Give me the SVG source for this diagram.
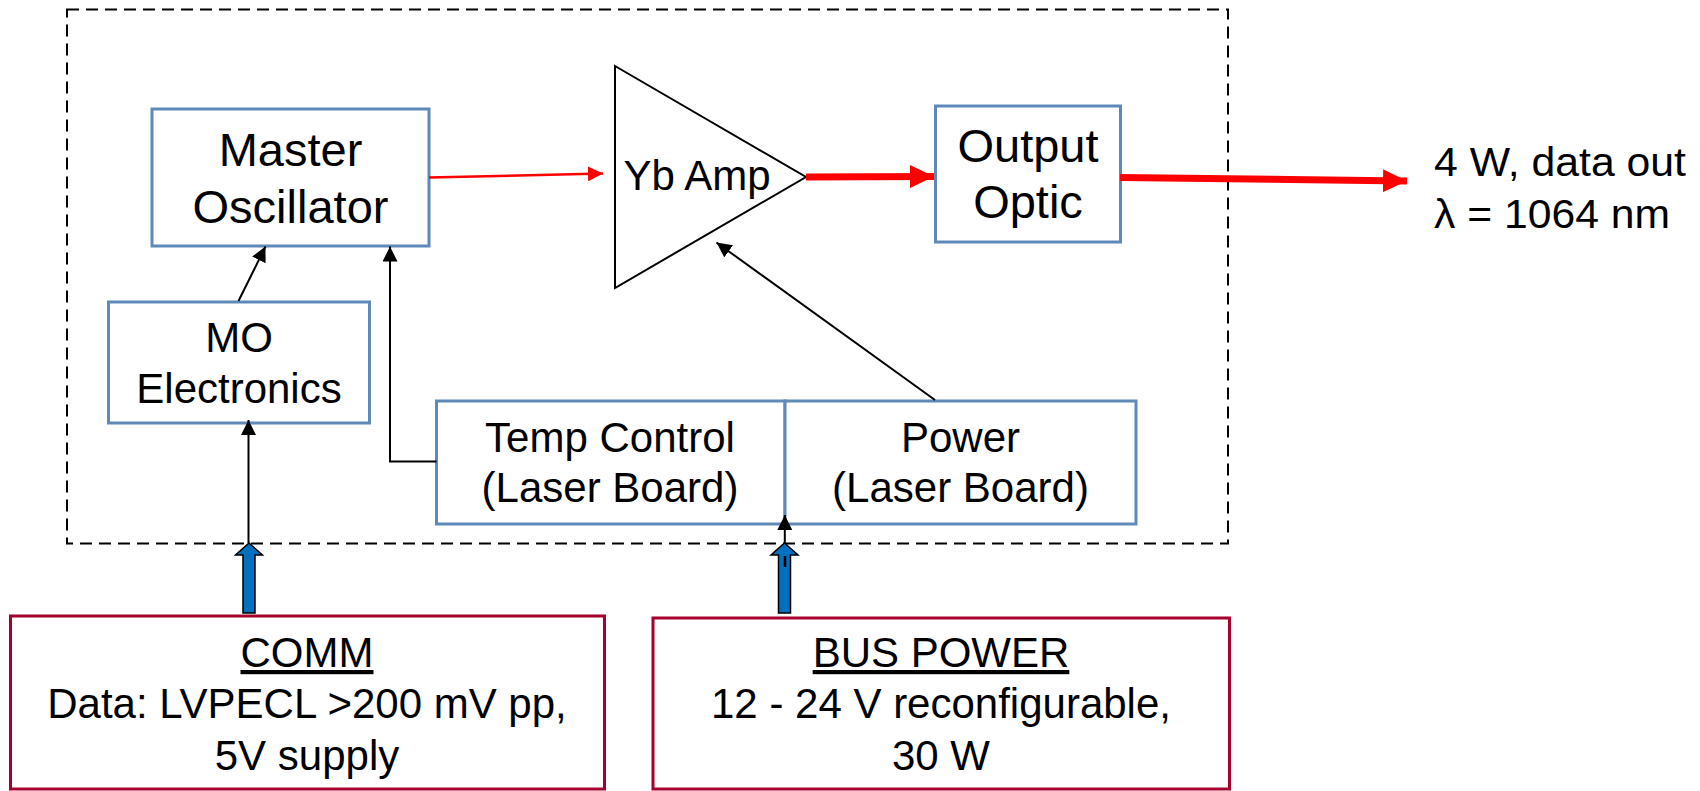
<svg xmlns="http://www.w3.org/2000/svg" width="1700" height="791" viewBox="0 0 1700 791">
<defs>
<style>
text{font-family:"Liberation Sans",Arial,sans-serif;fill:#000;text-anchor:middle}
.f47{font-size:47px}
.f42{font-size:42px}
.blue{fill:#fff;stroke:#5E89B8;stroke-width:3}
.red{fill:#fff;stroke:#A5002E;stroke-width:3}
.blk{fill:none;stroke:#000;stroke-width:2}
.blockarrow{fill:#0070C0;stroke:#000;stroke-width:1.5}
</style>
<marker id="ab" markerUnits="userSpaceOnUse" viewBox="0 0 15 15" markerWidth="15" markerHeight="15" refX="15" refY="7.5" orient="auto"><path d="M0,0 L15,7.5 L0,15 z" fill="#000"/></marker>
<marker id="ar" markerUnits="userSpaceOnUse" viewBox="0 0 15 15" markerWidth="15" markerHeight="15" refX="15" refY="7.5" orient="auto"><path d="M0,0 L15,7.5 L0,15 z" fill="#f00"/></marker>
<marker id="arL" markerUnits="userSpaceOnUse" viewBox="0 0 24 23" markerWidth="24" markerHeight="23" refX="24" refY="11.5" orient="auto"><path d="M0,0 L24,11.5 L0,23 z" fill="#f00"/></marker>
</defs>
<rect x="67" y="9.5" width="1161" height="534" fill="none" stroke="#000" stroke-width="2" stroke-dasharray="12 7"/>

<g id="master-oscillator">
<rect class="blue" x="152" y="109" width="277" height="137"/>
<text class="f47" x="290.5" y="166">Master</text>
<text class="f47" x="290.5" y="223">Oscillator</text>
</g>
<g id="mo-electronics">
<rect class="blue" x="108.5" y="302" width="261" height="121"/>
<text class="f42" x="239" y="352">MO</text>
<text class="f42" x="239" y="403">Electronics</text>
</g>
<g id="yb-amp">
<polygon points="615,66 806,177 615,288" fill="#fff" stroke="#000" stroke-width="2"/>
<text class="f42" x="697" y="190">Yb Amp</text>
</g>
<g id="output-optic">
<rect class="blue" x="935.5" y="106" width="185" height="136"/>
<text class="f47" x="1028" y="162">Output</text>
<text class="f47" x="1028" y="218">Optic</text>
</g>
<g id="temp-control">
<rect class="blue" x="436.5" y="401" width="348.5" height="123"/>
<text class="f42" x="610" y="452">Temp Control</text>
<text class="f42" x="610" y="502">(Laser Board)</text>
</g>
<g id="power">
<rect class="blue" x="785" y="401" width="351" height="123"/>
<text class="f42" x="960.5" y="452">Power</text>
<text class="f42" x="960.5" y="502">(Laser Board)</text>
</g>
<g id="comm">
<rect class="red" x="10.5" y="616" width="594" height="173"/>
<text class="f42" x="307" y="667" text-decoration="underline">COMM</text>
<text class="f42" x="307" y="718">Data: LVPECL &gt;200 mV pp,</text>
<text class="f42" x="307" y="770">5V supply</text>
</g>
<g id="bus-power">
<rect class="red" x="653" y="618" width="576.5" height="171"/>
<text class="f42" x="941" y="667" text-decoration="underline">BUS POWER</text>
<text class="f42" x="941" y="718">12 - 24 V reconfigurable,</text>
<text class="f42" x="941" y="770">30 W</text>
</g>
<g id="output-label">
<text class="f42" style="text-anchor:start;font-size:40px" x="1434" y="176" textLength="252" lengthAdjust="spacingAndGlyphs">4 W, data out</text>
<text class="f42" style="text-anchor:start;font-size:40px" x="1434" y="228" textLength="236" lengthAdjust="spacingAndGlyphs">λ = 1064 nm</text>
</g>

<g id="connectors">
<line x1="429" y1="177.5" x2="603" y2="173.5" stroke="#f00" stroke-width="2.5" marker-end="url(#ar)"/>
<line x1="806" y1="177" x2="934" y2="176.5" stroke="#f00" stroke-width="7" marker-end="url(#arL)"/>
<line x1="1120" y1="177.5" x2="1407" y2="181" stroke="#f00" stroke-width="7" marker-end="url(#arL)"/>
<line class="blk" x1="238.5" y1="301" x2="265.5" y2="246.5" marker-end="url(#ab)"/>
<polyline class="blk" points="436.5,461.5 390,461.5 390,246.5" marker-end="url(#ab)"/>
<line class="blk" x1="935" y1="400" x2="716.5" y2="242.5" marker-end="url(#ab)"/>
<polygon class="blockarrow" points="243,613 255,613 255,555 262.5,555 249,543 235.5,555 243,555"/>
<line class="blk" x1="248.5" y1="543" x2="248.5" y2="420" marker-end="url(#ab)"/>
<polygon class="blockarrow" points="778.5,613 790.5,613 790.5,555 798,555 784.5,543 771,555 778.5,555"/>
<line class="blk" x1="784.8" y1="543" x2="784.8" y2="515" marker-end="url(#ab)"/>
<line x1="785" y1="556" x2="785" y2="567" stroke="#000" stroke-width="2.5"/>
</g>
</svg>
